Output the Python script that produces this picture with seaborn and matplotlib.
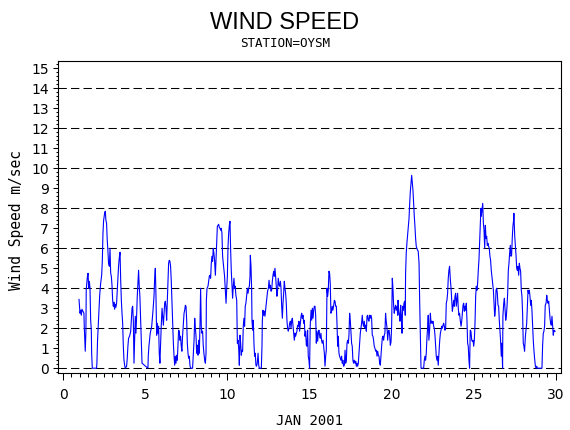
import matplotlib
matplotlib.use("Agg")
import matplotlib.pyplot as plt
from matplotlib.ticker import MultipleLocator
import pandas as pd
import seaborn as sns

title = "WIND SPEED"
subtitle = "STATION=OYSM"
x_label = "JAN 2001"
y_label = "Wind Speed m/sec"
x_ticks = [0, 5, 10, 15, 20, 25, 30]
y_ticks = list(range(16))
ref_lines = [0, 2, 4, 6, 8, 10, 12, 14]

# day of month (fractional) and wind speed in m/sec
day = [
    0.96, 1.02, 1.06, 1.10, 1.14, 1.20, 1.26, 1.28, 1.34, 1.38, 1.40, 1.46, 1.51, 1.55, 1.59,
    1.63, 1.67, 1.71, 1.73, 1.77, 2.03, 2.05, 2.09, 2.16, 2.22, 2.28, 2.34, 2.38, 2.42, 2.46,
    2.52, 2.56, 2.60, 2.64, 2.68, 2.72, 2.76, 2.81, 2.85, 2.89, 2.93, 2.97, 3.01, 3.05, 3.09,
    3.13, 3.17, 3.21, 3.25, 3.29, 3.33, 3.37, 3.41, 3.46, 3.50, 3.54, 3.58, 3.62, 3.66, 3.70,
    3.74, 3.78, 3.86, 3.90, 3.94, 3.98, 4.04, 4.11, 4.15, 4.19, 4.23, 4.27, 4.31, 4.35, 4.39,
    4.43, 4.47, 4.51, 4.55, 4.59, 4.63, 4.67, 4.71, 4.76, 4.80,
    5.16, 5.18, 5.22, 5.30, 5.39, 5.47, 5.53, 5.57, 5.61, 5.65, 5.69, 5.73, 5.77, 5.81, 5.85,
    5.89, 5.93, 5.97, 6.02, 6.06, 6.10, 6.14, 6.18, 6.22, 6.26, 6.30, 6.34, 6.38, 6.42, 6.46,
    6.50, 6.54, 6.58, 6.62, 6.67, 6.71, 6.75, 6.79, 6.83, 6.87, 6.91, 6.95, 6.99, 7.03, 7.07,
    7.11, 7.15, 7.19, 7.23, 7.27, 7.32, 7.36, 7.40, 7.44, 7.48, 7.52, 7.56, 7.60, 7.64, 7.68,
    7.72, 7.76, 7.88, 7.92, 7.97, 8.01, 8.05, 8.09, 8.13, 8.17, 8.21, 8.25, 8.29, 8.33, 8.37,
    8.41, 8.45, 8.49, 8.53, 8.57, 8.62, 8.66, 8.70, 8.72, 8.76, 8.82, 8.86, 8.90, 8.94, 8.98,
    9.02, 9.06, 9.10, 9.14, 9.18, 9.22, 9.27, 9.31, 9.35, 9.39, 9.43, 9.47, 9.51, 9.55, 9.59,
    9.63, 9.67, 9.71, 9.75, 9.79, 9.83, 9.87, 9.92, 9.96, 10.00, 10.04, 10.08, 10.12, 10.16,
    10.20, 10.24, 10.28, 10.32, 10.36, 10.40, 10.44, 10.48, 10.52, 10.57, 10.61, 10.65, 10.69,
    10.73, 10.77, 10.81, 10.85, 10.89, 10.93, 10.97, 11.01, 11.05, 11.09, 11.13, 11.17, 11.22,
    11.26, 11.30, 11.34, 11.38, 11.40, 11.44, 11.48, 11.50, 11.54, 11.58, 11.62, 11.66, 11.70,
    11.74, 11.78, 11.82, 11.87, 11.91, 11.95, 12.07, 12.11, 12.13, 12.17, 12.21, 12.25, 12.29,
    12.33, 12.37, 12.41, 12.45, 12.50, 12.54, 12.58, 12.62, 12.66, 12.70, 12.74, 12.78, 12.82,
    12.86, 12.90, 12.94, 12.98, 13.02, 13.06, 13.10, 13.15, 13.19, 13.23, 13.27, 13.31, 13.35,
    13.39, 13.43, 13.47, 13.51, 13.55, 13.59, 13.63, 13.67, 13.71, 13.75, 13.80, 13.84, 13.88,
    13.92, 13.96, 14.00, 14.04, 14.08, 14.12, 14.16, 14.20, 14.24, 14.28, 14.32, 14.36, 14.40,
    14.45, 14.49, 14.53, 14.57, 14.61, 14.65, 14.69, 14.73, 14.77, 14.81, 14.85, 14.89, 14.93,
    14.97, 15.01, 15.05, 15.10, 15.14, 15.18,
    15.22, 15.26, 15.30, 15.34, 15.38, 15.42, 15.46, 15.50, 15.54, 15.58, 15.62, 15.66, 15.70,
    15.74, 15.78, 15.83, 15.87, 15.91, 15.95, 15.99, 16.03, 16.07, 16.11, 16.15, 16.19, 16.23,
    16.27, 16.31, 16.35, 16.39, 16.43, 16.48, 16.52, 16.56, 16.60, 16.64, 16.68, 16.72, 16.76,
    16.80, 16.84, 16.88, 16.92, 16.96, 17.00, 17.04, 17.08, 17.13, 17.17, 17.21, 17.25, 17.29,
    17.33, 17.37, 17.41, 17.45, 17.49, 17.53, 17.57, 17.61, 17.65, 17.69, 17.73, 17.78, 17.82,
    17.86, 17.90, 17.94, 17.98, 18.02, 18.06, 18.10, 18.14, 18.18, 18.22, 18.26, 18.30, 18.34,
    18.39, 18.43, 18.47, 18.51, 18.55, 18.59, 18.63, 18.67, 18.71, 18.75, 18.79, 18.83, 18.87,
    18.91, 18.95, 18.99, 19.04, 19.08, 19.12, 19.16, 19.20, 19.24, 19.28, 19.32, 19.36, 19.40,
    19.44, 19.48, 19.52, 19.56, 19.60, 19.64, 19.68, 19.73, 19.77, 19.81, 19.85, 19.89, 19.93,
    19.97, 20.01, 20.05, 20.09, 20.13, 20.17, 20.21, 20.25, 20.29, 20.34, 20.38,
    20.40, 20.44, 20.48, 20.52, 20.56, 20.60, 20.64, 20.68, 20.72, 20.76, 20.80, 20.84, 20.86,
    20.90, 20.94, 20.99, 21.03, 21.07, 21.11, 21.15, 21.19, 21.23, 21.27, 21.31, 21.35, 21.39,
    21.43, 21.47, 21.51, 21.55, 21.59, 21.63, 21.68, 21.72, 21.76, 21.80, 21.96, 22.00, 22.04,
    22.08, 22.12, 22.16, 22.20, 22.24, 22.28, 22.33, 22.37, 22.41, 22.45, 22.49, 22.53, 22.57,
    22.61, 22.65, 22.69, 22.73, 22.77, 22.81, 22.85, 22.89, 22.94, 22.98, 23.02, 23.06, 23.10,
    23.14, 23.18, 23.22, 23.26, 23.30, 23.34, 23.38, 23.42, 23.46, 23.50, 23.54, 23.59, 23.63,
    23.67, 23.71, 23.75, 23.79, 23.83, 23.87, 23.91, 23.95, 23.99, 24.03, 24.07, 24.11, 24.15,
    24.19, 24.24, 24.28, 24.32, 24.36, 24.40, 24.44, 24.48, 24.52, 24.56, 24.60, 24.64, 24.68,
    24.72, 24.76, 24.80, 24.84, 24.89, 24.93, 24.97, 25.01, 25.05, 25.09, 25.13, 25.17, 25.21,
    25.25, 25.29, 25.33, 25.37, 25.41, 25.45,
    25.47, 25.51, 25.56, 25.60, 25.64, 25.68, 25.72, 25.76, 25.80, 25.84, 25.88, 25.92, 25.96,
    26.00, 26.04, 26.08, 26.12, 26.16, 26.21, 26.25, 26.29, 26.33, 26.37, 26.41, 26.45, 26.49,
    26.53, 26.57, 26.61, 26.65, 26.69, 26.73, 26.77, 26.79, 26.84, 26.88, 26.92, 26.96, 27.00,
    27.04, 27.08, 27.12, 27.16, 27.20, 27.24, 27.28, 27.32, 27.36, 27.40, 27.44, 27.46, 27.51,
    27.55, 27.59, 27.63, 27.67, 27.71, 27.75, 27.79, 27.83, 27.87, 27.91, 27.95, 27.99, 28.03,
    28.07, 28.11, 28.16, 28.20, 28.24, 28.28, 28.32, 28.36, 28.40, 28.44, 28.48, 28.52, 28.56,
    28.60, 28.64, 28.68, 28.72, 28.77, 28.81, 28.85, 28.89, 29.17, 29.21, 29.25, 29.29, 29.33,
    29.37, 29.42, 29.46, 29.50, 29.54, 29.58, 29.62, 29.66, 29.70, 29.74, 29.78, 29.82, 29.86,
    29.90, 29.94, 29.98,
]
speed = [
    3.45, 2.75, 2.9, 2.65, 2.95, 2.85, 2.75, 2.1, 0.85, 1.8, 3.9, 4.5, 4.75, 4.0, 4.35,
    4.0, 2.4, 1.9, 0.75, 0, 0, 0.25, 1.4, 2.65, 3.65, 4.25, 4.65, 5.35, 6.75, 7.4,
    7.75, 7.85, 7.4, 7.25, 6.4, 5.9, 5.25, 5.1, 6.0, 4.75, 4.6, 4.15, 3.4, 3.1, 3.3,
    2.95, 3.2, 3.05, 3.25, 3.9, 4.65, 5.1, 5.5, 5.8, 4.4, 3.4, 2.75, 2.25, 1.1, 0.4,
    0.15, 0, 0.1, 0.5, 1.1, 1.5, 1.6, 1.85, 2.4, 3.0, 3.1, 2.4, 0.25, 1.4, 2.6,
    1.75, 2.6, 3.6, 4.25, 4.9, 4.1, 3.6, 2.6, 1.25, 0.25,
    0, 0.6, 1.1, 1.75, 2.1, 2.9, 3.6, 4.5, 5.0, 3.6, 1.65, 2.25, 1.75, 2.1, 0.75,
    0.25, 1.25, 2.1, 3.0, 2.6, 2.15, 2.75, 3.25, 3.35, 3.0, 2.4, 3.4, 4.4, 5.25, 5.4,
    5.35, 5.1, 4.4, 3.4, 2.25, 1.25, 0.6, 0.15, 0.6, 0.25, 0.65, 0.4, 1.1, 1.9, 1.85,
    1.4, 1.6, 1.1, 0.85, 1.6, 2.25, 2.75, 2.9, 3.15, 3.1, 2.4, 1.25, 0.75, 0.5, 0.6,
    0.15, 0, 0, 0.6, 1.4, 2.5, 2.0, 1.6, 0.75, 1.15, 0.65, 1.4, 0.75, 2.1, 4.0,
    2.1, 1.75, 1.85, 1.15, 0.75, 0.4, 0.25, 0.75, 3.4, 4.0, 4.1, 4.35, 4.6, 4.65, 4.5,
    5.25, 5.6, 5.35, 6.0, 5.75, 5.4, 4.65, 5.5, 6.4, 7.1, 7.15, 7.2, 7.05, 7.0, 6.9,
    7.0, 6.75, 5.6, 5.25, 4.9, 4.6, 4.0, 3.25, 4.0, 4.6, 6.1, 6.75, 7.15, 7.35,
    5.9, 4.85, 4.15, 3.5, 4.1, 4.5, 4.0, 4.1, 3.65, 3.4, 1.25, 1.4, 1.0,
    0.15, 1.65, 1.25, 0.65, 0.9, 0.85, 2.1, 2.5, 2.1, 3.1, 3.25, 3.6, 4.0,
    3.75, 4.0, 4.1, 4.6, 5.65, 5.1, 3.9, 2.4, 1.9, 2.4, 1.25, 0.6, 0.75,
    0.15, 0.1, 0.25, 0.75, 0.15, 0, 0, 1.1, 2.35, 2.9, 2.65, 2.85, 2.6,
    2.9, 3.25, 3.5, 3.85, 4.0, 4.4, 4.0, 4.15, 3.85, 3.9, 4.35, 4.65, 4.85,
    4.6, 5.0, 4.6, 4.1, 3.6, 3.9, 4.5, 4.15, 4.1, 4.35, 4.0, 3.1, 2.5,
    3.25, 3.75, 4.35, 4.0, 3.75, 3.25, 2.4, 2.0, 1.85, 2.0, 2.25, 2.35, 2.0,
    2.4, 2.5, 2.15, 1.85, 1.4, 1.75, 1.6, 1.75, 1.85, 2.15, 2.1, 2.35, 1.85,
    2.25, 2.6, 2.75, 2.5, 2.65, 2.25, 2.4, 1.6, 1.85, 1.15, 1.1, 1.9, 0.6,
    0.4, 0, 2.15, 2.9, 2.4, 3.0,
    2.5, 2.9, 3.1, 3.1, 2.65, 1.25, 1.85, 1.35, 1.75, 1.9, 1.65, 1.5, 1.75,
    1.4, 1.25, 1.4, 1.1, 0.75, 0.1, 0.6, 0.9, 4.0, 3.6, 3.9, 4.85, 4.75,
    4.25, 2.75, 2.85, 3.1, 2.9, 3.15, 3.4, 3.35, 3.1, 3.1, 2.25, 1.1, 1.6,
    0.75, 0.6, 0.5, 0.4, 0.6, 0.25, 0.4, 0.1, 0.15, 0.9, 0.25, 0.4, 1.25,
    1.4, 1.25, 1.65, 2.75, 2.4, 1.85, 1.25, 1.1, 0.4, 0.25, 0.4, 0.25, 0.35,
    0.1, 0.25, 0.1, 0.25, 0.75, 1.25, 1.75, 2.0, 2.25, 2.65, 2.25, 2.1, 2.35,
    2.0, 2.15, 1.85, 2.6, 2.65, 2.4, 2.35, 2.65, 2.5, 2.65, 2.5, 1.65, 1.6,
    1.4, 1.1, 1.0, 0.85, 0.9, 0.6, 0.85, 0.65, 0.6, 0.25, 0.15, 0.65, 1.1,
    1.5, 1.6, 1.4, 1.65, 1.75, 2.75, 2.35, 2.0, 1.4, 1.85, 1.9, 1.65, 1.15,
    1.3, 2.1, 4.5, 4.0, 3.15, 2.75, 3.0, 3.15, 2.9, 3.1, 2.65,
    3.4, 2.9, 2.65, 2.35, 3.15, 2.6, 1.75, 3.1, 2.9, 3.25, 3.35, 2.65, 4.75,
    5.75, 6.25, 6.75, 7.1, 7.5, 8.25, 8.85, 9.25, 9.65, 9.25, 8.9, 8.25, 7.6,
    7.1, 6.5, 6.1, 6.0, 5.9, 5.85, 5.25, 3.25, 1.6, 0, 0, 0.4, 0.6,
    0.4, 0.75, 1.5, 2.0, 2.65, 1.4, 2.0, 2.75, 2.25, 2.35, 2.25, 2.35, 2.1,
    2.0, 1.65, 1.15, 0.6, 0.4, 0.6, 0.15, 0.75, 1.4, 1.75, 1.9, 2.1, 2.0,
    2.15, 2.25, 2.1, 1.9, 2.0, 3.25, 3.4, 3.75, 4.5, 4.9, 5.1, 4.4, 4.0,
    3.4, 2.85, 3.1, 3.4, 3.1, 3.6, 3.75, 3.1, 3.4, 3.75, 3.0, 2.65, 2.75,
    2.4, 2.1, 2.35, 2.75, 3.15, 3.25, 2.85, 3.1, 2.9, 3.25, 2.4, 1.25, 1.1,
    0.4, 0, 1.9, 1.85, 1.4, 1.35, 1.4, 1.1, 1.4, 2.25, 3.6, 4.1, 3.9,
    4.25, 4.9, 5.4, 6.25, 7.15, 8.0,
    7.6, 7.9, 8.25, 7.25, 6.9, 6.0, 7.15, 6.5, 6.6, 6.15, 6.25, 6.1, 6.0,
    5.6, 5.4, 4.9, 4.6, 4.35, 3.9, 3.25, 2.6, 2.9, 3.9, 4.0, 3.75, 3.15,
    3.1, 2.4, 1.9, 1.35, 0.6, 1.25, 0, 2.6, 3.25, 3.5, 2.9, 2.4, 2.6,
    3.1, 3.75, 4.9, 5.25, 5.75, 6.15, 5.6, 5.65, 6.5, 7.1, 7.4, 7.75, 6.6,
    6.1, 5.65, 5.0, 4.9, 5.1, 4.65, 5.25, 5.0, 4.85, 3.9, 3.6, 2.75, 1.25,
    1.1, 0.85, 1.6, 1.9, 2.25, 3.15, 3.9, 3.75, 3.9, 3.6, 3.15, 3.4, 2.9,
    2.15, 1.4, 0.9, 0.5, 0.1, 0, 0.1, 0, 0, 1.15, 1.75, 1.85, 2.1,
    3.15, 3.25, 3.65, 3.4, 3.25, 3.35, 2.9, 2.5, 2.25, 2.15, 2.6, 2.1, 1.65,
    1.9, 1.85, 1.85,
]
assert len(day) == len(speed)

sns.set_style("ticks")
plt.rcParams["font.family"] = ["DejaVu Sans"]
plt.rcParams["text.color"] = "black"

df = pd.DataFrame({"day": day, "speed": speed})

W, H = 570, 430
fig = plt.figure(figsize=(W / 100, H / 100), dpi=100)
ax = fig.add_axes([58 / W, 57 / H, 503 / W, 312 / H])

# dashed reference lines every 2 m/sec
for lvl in ref_lines:
    ax.axhline(lvl, color="black", lw=0.75, ls=(0, (8, 4)), zorder=1)

sns.lineplot(data=df, x="day", y="speed", sort=False, estimator=None,
             color="#0000ff", lw=0.8, ax=ax, zorder=2)

ax.set_xlim(-0.32, 30.33)
ax.set_ylim(-0.24, 15.37)
ax.set_xticks(x_ticks)
ax.set_xticklabels([str(t) for t in x_ticks])
ax.xaxis.set_minor_locator(MultipleLocator(0.5))
ax.set_yticks(y_ticks)
ax.set_yticklabels([str(t) for t in y_ticks])
ax.yaxis.set_minor_locator(MultipleLocator(0.2))
ax.tick_params(axis="x", which="major", length=5, width=0.75, pad=6, labelsize=10, colors="black")
ax.tick_params(axis="x", which="minor", length=3, width=0.75, colors="black")
ax.tick_params(axis="y", which="major", length=3.5, width=0.75, pad=3, labelsize=10, colors="black")
ax.tick_params(axis="y", which="minor", length=1.8, width=0.75, colors="black")
for s in ax.spines.values():
    s.set_visible(True)
    s.set_color("black")
    s.set_linewidth(0.8)
ax.set_xlabel("")
ax.set_ylabel("")

fig.text(0.5, 1 - 29 / H, title, ha="center", va="baseline", color="black",
         family="Liberation Sans", fontsize=17)
fig.text(0.5, 1 - 47 / H, subtitle, ha="center", va="baseline", color="black",
         family="DejaVu Sans Mono", fontsize=9)
fig.text((58 + 561) / 2 / W, 1 - 425 / H, x_label, ha="center", va="baseline",
         color="black", family="DejaVu Sans Mono", fontsize=10)
fig.text(17 / W, 1 - 220 / H, y_label, ha="center", va="center", rotation=90,
         color="black", family="DejaVu Sans Mono", fontsize=10.5)

fig.savefig("out.png", dpi=100)
